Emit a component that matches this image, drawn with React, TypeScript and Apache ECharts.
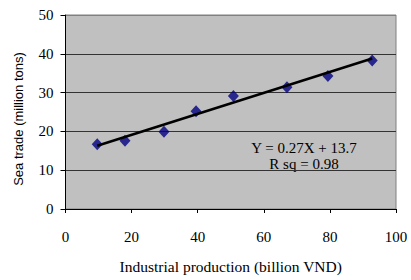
import React, { useEffect, useRef } from "react";
import * as echarts from "echarts";

const industrialProduction = [9.6, 18.0, 29.8, 39.5, 50.8, 67.0, 79.4, 92.8];
const seaTrade = [16.7, 17.6, 19.9, 25.2, 29.1, 31.4, 34.3, 38.3];
const trendX = [9.6, 92.8];
const trendY = [16.3, 38.8];
const equationLines = ["Y = 0.27X + 13.7", "R sq = 0.98"];
const xTitle = "Industrial production (billion VND)";
const yTitle = "Sea trade (million tons)";

export default function App() {
  const ref = useRef<HTMLDivElement>(null);
  useEffect(() => {
    if (!ref.current) return;
    const chart = echarts.init(ref.current, null, { renderer: "svg" });
    const serif = "'Liberation Serif', 'Times New Roman', serif";
    chart.setOption({
      animation: false,
      grid: {
        left: 65.5,
        right: 15,
        top: 15,
        bottom: 71,
        show: true,
        backgroundColor: "#c0c0c0",
        borderColor: "#808080",
        borderWidth: 1,
      },
      xAxis: {
        type: "value",
        min: 0,
        max: 100,
        interval: 20,
        name: xTitle,
        nameLocation: "middle",
        nameGap: 49,
        nameTextStyle: { fontFamily: serif, fontSize: 15.5, color: "#000" },
        axisLine: { show: true, lineStyle: { color: "#000", width: 1 } },
        axisTick: { show: true, length: 4, lineStyle: { color: "#000" } },
        axisLabel: { fontFamily: serif, fontSize: 15, color: "#000", margin: 20 },
        splitLine: { show: false },
      },
      yAxis: {
        type: "value",
        min: 0,
        max: 50,
        interval: 10,
        axisLine: { show: true, lineStyle: { color: "#000", width: 1 } },
        axisTick: { show: true, length: 5, lineStyle: { color: "#000" } },
        axisLabel: { fontFamily: serif, fontSize: 15, color: "#000", margin: 12 },
        splitLine: {
          show: true,
          lineStyle: { color: ["#000", "#333", "#333", "#333", "#333", "#808080"], width: 1 },
        },
      },
      series: [
        {
          type: "line",
          data: trendX.map((x, i) => [x, trendY[i]]),
          showSymbol: false,
          symbol: "none",
          lineStyle: { color: "#000", width: 2.5 },
          z: 3,
          silent: true,
        },
        {
          type: "scatter",
          data: industrialProduction.map((x, i) => [x, seaTrade[i]]),
          symbol: "diamond",
          symbolSize: [11, 12],
          itemStyle: { color: "#000080" },
          z: 2,
        },
      ],
      graphic: [
        {
          type: "text",
          x: 18,
          y: 119,
          rotation: Math.PI / 2,
          style: {
            text: yTitle,
            font: "13px 'Liberation Sans', Arial, sans-serif",
            fill: "#000",
            align: "center",
            verticalAlign: "middle",
          },
        },
        {
          type: "text",
          x: 304,
          y: 148,
          style: { text: equationLines[0], font: `15px ${serif}`, fill: "#000", align: "center", verticalAlign: "middle" },
        },
        {
          type: "text",
          x: 304,
          y: 164,
          style: { text: equationLines[1], font: `15px ${serif}`, fill: "#000", align: "center", verticalAlign: "middle" },
        },
      ],
    });
    return () => chart.dispose();
  }, []);
  return <div ref={ref} style={{ width: 411, height: 280, position: "absolute", left: 0, top: 0, background: "#fff" }} />;
}
